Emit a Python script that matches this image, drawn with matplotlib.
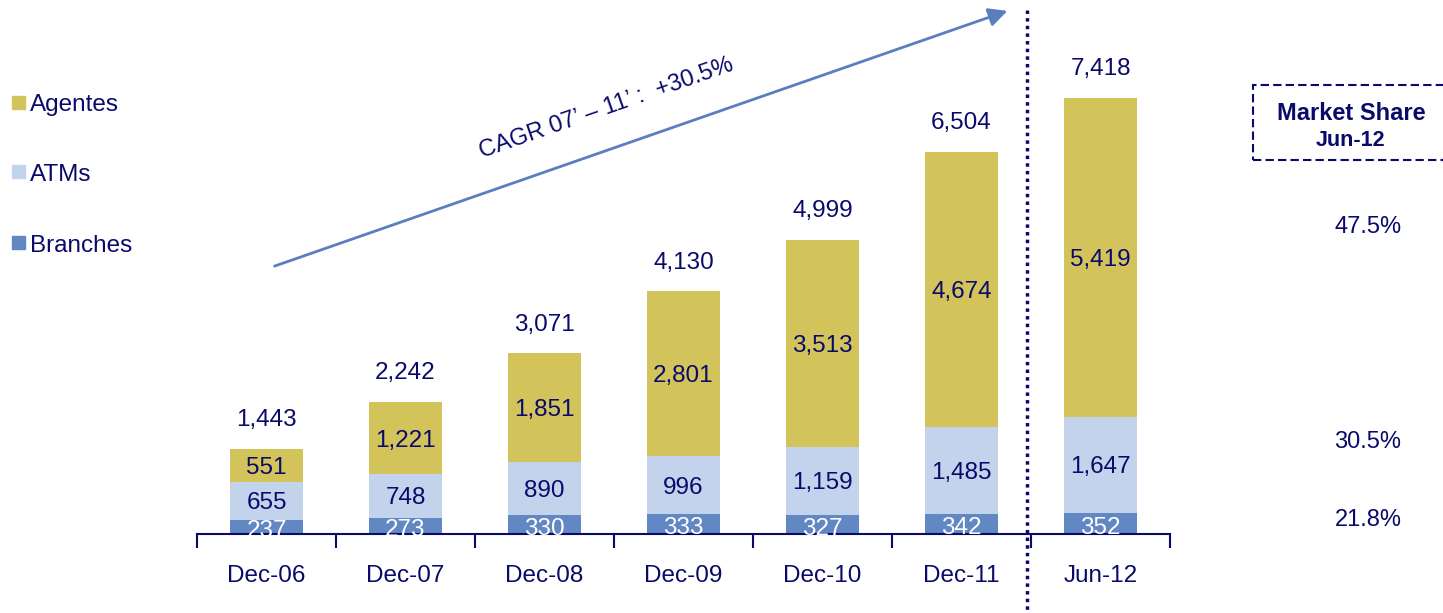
import matplotlib as mpl
mpl.use('Agg')
import matplotlib.pyplot as plt
from matplotlib.patches import Rectangle
import matplotlib.transforms as mtransforms
import numpy as np

plt.rcParams['font.family'] = ['Liberation Sans', 'DejaVu Sans']

periods = ['Dec-06', 'Dec-07', 'Dec-08', 'Dec-09', 'Dec-10', 'Dec-11', 'Jun-12']
branches = [237, 273, 330, 333, 327, 342, 352]
atms = [655, 748, 890, 996, 1159, 1485, 1647]
agentes = [551, 1221, 1851, 2801, 3513, 4674, 5419]
totals = [1443, 2242, 3071, 4130, 4999, 6504, 7418]
share_labels = ['47.5%', '30.5%', '21.8%']
cagr_label = "CAGR 07\u2019 \u2013 11\u2019 :  +30.5%"

navy = '#0A0A6B'
c_agentes = '#D2C35A'
c_atms = '#C3D3EB'
c_branches = '#6288C4'
c_arrow = '#5A7EBE'

W, H = 1443, 613
mydpi = 100
fig = plt.figure(figsize=(W / mydpi, H / mydpi), dpi=mydpi)
base_px = 534
ax = fig.add_axes([197 / W, (H - base_px) / H, 973 / W, base_px / H])
px_per_unit = 436 / 7418
ax.set_ylim(0, base_px / px_per_unit)
ax.set_xlim(-0.5, len(periods) - 0.5)

x = np.arange(len(periods))
bw = 0.52
b = np.array(branches)
a = np.array(atms)
g = np.array(agentes)
ax.bar(x, b, bw, color=c_branches)
ax.bar(x, a, bw, bottom=b, color=c_atms)
ax.bar(x, g, bw, bottom=b + a, color=c_agentes)

va = 'center_baseline'
for i in range(len(periods)):
    ax.text(x[i], b[i] / 2 - 30, f'{branches[i]:,}', ha='center', va=va, color='white', fontsize=17.5)
    ax.text(x[i], b[i] + a[i] / 2, f'{atms[i]:,}', ha='center', va=va, color=navy, fontsize=17.5)
    ax.text(x[i], b[i] + a[i] + g[i] / 2, f'{agentes[i]:,}', ha='center', va=va, color=navy, fontsize=17.5)
    ax.annotate(f'{totals[i]:,}', (x[i], totals[i]), xytext=(0, 22.5), textcoords='offset points',
                ha='center', va=va, color=navy, fontsize=17.5)

for s in ['top', 'right', 'left']:
    ax.spines[s].set_visible(False)
ax.spines['bottom'].set_color(navy)
ax.spines['bottom'].set_linewidth(1.5)
ax.set_yticks([])
ax.set_xticks(np.arange(-0.5, len(periods)))
ax.set_xticklabels([])
ax.tick_params(axis='x', direction='out', length=10, width=1.5, color=navy)
for i, p in enumerate(periods):
    ax.text(x[i], -39 / px_per_unit, p, ha='center', va=va, color=navy, fontsize=17.5)

# vertical dotted separator
tr = mtransforms.blended_transform_factory(ax.transData, fig.transFigure)
ax.plot([5.47, 5.47], [1 - 10 / H, 0], transform=tr, clip_on=False,
        color=navy, lw=2.5, linestyle=(0, (1, 1.2)))

# legend
legend_items = [('Agentes', c_agentes, 103), ('ATMs', c_atms, 172), ('Branches', c_branches, 243)]
for name, col, ypx in legend_items:
    fig.add_artist(Rectangle((12 / W, 1 - (ypx + 6) / H), 13 / W, 13 / H, color=col, transform=fig.transFigure))
    fig.text(30 / W, 1 - ypx / H, name, ha='left', va=va, color=navy, fontsize=17.5)

# CAGR arrow
fig.add_artist(mpl.patches.FancyArrowPatch((272 / W, 1 - 267 / H), (1010 / W, 1 - 10 / H),
                                           transform=fig.transFigure, arrowstyle='-|>',
                                           mutation_scale=28, color=c_arrow, lw=2))
fig.text(606 / W, 1 - 108 / H, cagr_label, rotation=19.2, rotation_mode='anchor',
         ha='center', va='center', color=navy, fontsize=17)

# market share box
fig.add_artist(Rectangle((1253 / W, 1 - 160 / H), 200 / W, 75 / H, fill=False, edgecolor=navy,
                         lw=1.5, linestyle=(0, (4, 2)), transform=fig.transFigure))
fig.text(1351 / W, 1 - 111 / H, 'Market Share', ha='center', va=va, color=navy,
         fontsize=17, fontweight='bold')
fig.text(1351 / W, 1 - 138 / H, 'Jun-12', ha='center', va=va, color=navy,
         fontsize=15.5, fontweight='bold')
for lab, ypx in zip(share_labels, [224, 440, 517]):
    fig.text(1368 / W, 1 - ypx / H, lab, ha='center', va=va, color=navy, fontsize=17)

plt.savefig('out.png', dpi=mydpi)
plt.close(fig='all')
